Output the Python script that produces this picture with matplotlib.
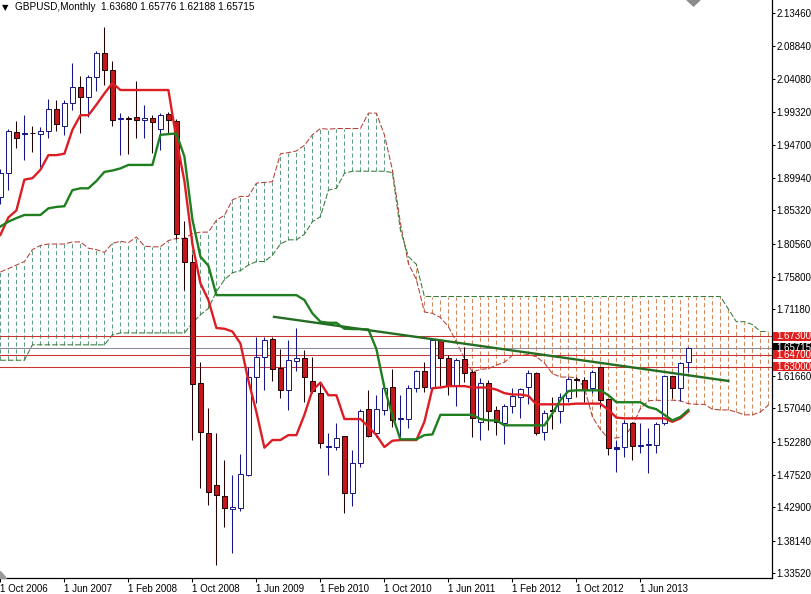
import numpy as np
import matplotlib
matplotlib.use('Agg')
import matplotlib.pyplot as plt
from matplotlib.patches import Rectangle, Polygon
from matplotlib.transforms import blended_transform_factory

plt.rcParams['font.family'] = ['Liberation Sans', 'DejaVu Sans']
plt.rcParams['lines.scale_dashes'] = False

# GBPUSD monthly candles, index 0 = Oct 2006 ... index 86 = Dec 2013
opens = [1.872, 1.906, 1.9645, 1.9625, 1.964, 1.962, 1.967, 1.998, 1.973, 2.006,
         2.029, 2.0155, 2.043, 2.0784, 2.053, 1.9835, 1.9852, 1.987, 1.982, 1.985,
         1.970, 1.991, 1.981, 1.814, 1.780, 1.6058, 1.5346, 1.461, 1.445, 1.426,
         1.428, 1.475, 1.615, 1.644, 1.669, 1.6274, 1.5965, 1.638, 1.642, 1.609,
         1.592, 1.5155, 1.5155, 1.531, 1.450, 1.4917, 1.5688, 1.5345, 1.568, 1.601,
         1.5555, 1.555, 1.599, 1.6236, 1.600, 1.668, 1.642, 1.602, 1.6403, 1.6226,
         1.551, 1.606, 1.568, 1.549, 1.574, 1.587, 1.6003, 1.6212, 1.537, 1.5685,
         1.566, 1.5846, 1.6115, 1.6107, 1.5988, 1.6288, 1.583, 1.5126, 1.5145, 1.5498,
         1.5170, 1.5175, 1.518, 1.549, 1.6165, 1.600, 1.6368]
highs = [1.912, 1.970, 1.981, 1.989, 1.974, 1.972, 2.012, 2.011, 2.011, 2.064,
         2.045, 2.0465, 2.081, 2.1155, 2.0665, 1.992, 1.988, 2.038, 2.003, 1.989,
         1.992, 1.994, 1.984, 1.838, 1.791, 1.637, 1.571, 1.535, 1.4965, 1.475,
         1.505, 1.630, 1.672, 1.6727, 1.672, 1.655, 1.668, 1.685, 1.6536, 1.644,
         1.608, 1.535, 1.549, 1.531, 1.511, 1.570, 1.597, 1.589, 1.606, 1.627,
         1.589, 1.604, 1.625, 1.637, 1.670, 1.669, 1.6465, 1.642, 1.658, 1.625,
         1.613, 1.611, 1.574, 1.577, 1.600, 1.599, 1.625, 1.6226, 1.568, 1.587,
         1.592, 1.6155, 1.615, 1.6155, 1.625, 1.6298, 1.5846, 1.525, 1.5536, 1.551,
         1.549, 1.5417, 1.551, 1.618, 1.6165, 1.637, 1.65776]
lows = [1.862, 1.882, 1.942, 1.925, 1.937, 1.915, 1.957, 1.966, 1.961, 1.997,
        1.963, 1.987, 2.023, 2.032, 1.973, 1.932, 1.934, 1.956, 1.957, 1.935,
        1.939, 1.963, 1.812, 1.739, 1.525, 1.456, 1.432, 1.346, 1.401, 1.363,
        1.424, 1.473, 1.5775, 1.5966, 1.6095, 1.585, 1.568, 1.623, 1.580, 1.592,
        1.513, 1.475, 1.511, 1.4205, 1.431, 1.487, 1.530, 1.530, 1.561, 1.544,
        1.530, 1.542, 1.594, 1.594, 1.599, 1.602, 1.589, 1.574, 1.6084, 1.530,
        1.525, 1.539, 1.532, 1.520, 1.563, 1.557, 1.577, 1.532, 1.525, 1.541,
        1.549, 1.580, 1.587, 1.580, 1.5917, 1.5726, 1.504, 1.480, 1.501, 1.4965,
        1.506, 1.4774, 1.507, 1.546, 1.5846, 1.5812, 1.62188]
closes = [1.906, 1.966, 1.956, 1.9635, 1.963, 1.9665, 1.998, 1.977, 2.006, 2.029,
          2.0146, 2.044, 2.0784, 2.053, 1.982, 1.9855, 1.9842, 1.982, 1.985, 1.979,
          1.990, 1.982, 1.820, 1.780, 1.6056, 1.5369, 1.451, 1.447, 1.428, 1.430,
          1.476, 1.6155, 1.644, 1.668, 1.627, 1.5965, 1.6393, 1.642, 1.615, 1.595,
          1.521, 1.516, 1.5274, 1.450, 1.4917, 1.5665, 1.531, 1.5688, 1.600, 1.554,
          1.5565, 1.600, 1.6236, 1.6003, 1.6679, 1.642, 1.6022, 1.6393, 1.621, 1.556,
          1.606, 1.567, 1.551, 1.574, 1.588, 1.5974, 1.6212, 1.5355, 1.5631, 1.5665,
          1.587, 1.6117, 1.6105, 1.5965, 1.6226, 1.582, 1.513, 1.5145, 1.5498, 1.5164,
          1.5185, 1.5185, 1.548, 1.6165, 1.600, 1.6355, 1.65715]

tenkan = [1.818, 1.843, 1.853, 1.897, 1.899, 1.911, 1.932, 1.932, 1.934, 1.968,
          1.989, 1.989, 2.004, 2.020, 2.035, 2.025, 2.025, 2.025, 2.025, 2.025,
          2.025, 2.025, 1.955, 1.895, 1.805, 1.749, 1.725, 1.685, 1.684, 1.680,
          1.663, 1.610, 1.565, 1.514, 1.525, 1.525, 1.532, 1.532, 1.561, 1.596,
          1.607, 1.589, 1.589, 1.555, 1.555, 1.555, 1.544, 1.532, 1.515, 1.524,
          1.525, 1.525, 1.525, 1.551, 1.599, 1.600, 1.602, 1.602, 1.602, 1.600,
          1.600, 1.600, 1.597, 1.592, 1.590, 1.590, 1.588, 1.576, 1.576, 1.576,
          1.576, 1.576, 1.577, 1.577, 1.577, 1.577, 1.568, 1.557, 1.556, 1.556,
          1.556, 1.556, 1.556, 1.556, 1.551, 1.556, 1.566]
kijun = [1.830, 1.837, 1.842, 1.8465, 1.8465, 1.8465, 1.856, 1.858, 1.859, 1.882,
         1.8846, 1.8846, 1.895, 1.908, 1.910, 1.913, 1.918, 1.918, 1.918, 1.918,
         1.961, 1.962, 1.963, 1.930, 1.840, 1.787, 1.774, 1.732, 1.732, 1.732,
         1.732, 1.732, 1.732, 1.732, 1.732, 1.732, 1.732, 1.732, 1.725, 1.706,
         1.694, 1.6925, 1.6925, 1.684, 1.6835, 1.6835, 1.683, 1.655, 1.600, 1.560,
         1.526, 1.526, 1.526, 1.532, 1.533, 1.561, 1.561, 1.561, 1.561, 1.561,
         1.555, 1.553, 1.553, 1.546, 1.546, 1.546, 1.546, 1.546, 1.546, 1.563,
         1.582, 1.595, 1.596, 1.596, 1.596, 1.596, 1.589, 1.579, 1.579, 1.579,
         1.579, 1.572, 1.569, 1.561, 1.553, 1.558, 1.568]

# senkou spans run 10 bars past the last candle
span_a = [1.765, 1.770, 1.775, 1.780, 1.797, 1.803, 1.805, 1.805, 1.805, 1.808,
          1.808, 1.799, 1.797, 1.793, 1.806, 1.809, 1.807, 1.815, 1.802, 1.801,
          1.801, 1.810, 1.813, 1.813, 1.820, 1.822, 1.822, 1.839, 1.846, 1.868,
          1.873, 1.873, 1.892, 1.893, 1.894, 1.934, 1.9355, 1.938, 1.946, 1.961,
          1.970, 1.969, 1.970, 1.970, 1.970, 1.970, 1.992, 1.992, 1.961, 1.911,
          1.835, 1.777, 1.754, 1.708, 1.706, 1.700, 1.687, 1.665, 1.642, 1.622,
          1.626, 1.627, 1.632, 1.636, 1.646, 1.646, 1.647, 1.644, 1.635, 1.620,
          1.615, 1.615, 1.614, 1.600, 1.558, 1.540, 1.527, 1.528, 1.530, 1.545,
          1.570, 1.581, 1.582, 1.581, 1.582, 1.581, 1.577, 1.576, 1.576, 1.569,
          1.568, 1.568, 1.565, 1.561, 1.561, 1.565, 1.575]
span_b = [1.639, 1.639, 1.639, 1.639, 1.661, 1.661, 1.661, 1.661, 1.661, 1.661,
          1.661, 1.661, 1.661, 1.661, 1.675, 1.678, 1.678, 1.678, 1.678, 1.678,
          1.678, 1.678, 1.678, 1.678, 1.692, 1.704, 1.713, 1.737, 1.754, 1.764,
          1.767, 1.775, 1.780, 1.780, 1.789, 1.805, 1.811, 1.811, 1.819, 1.837,
          1.844, 1.882, 1.8845, 1.906, 1.909, 1.909, 1.909, 1.909, 1.909, 1.907,
          1.825, 1.787, 1.776, 1.730, 1.730, 1.730, 1.730, 1.730, 1.730, 1.730,
          1.730, 1.730, 1.730, 1.730, 1.730, 1.730, 1.730, 1.730, 1.730, 1.730,
          1.730, 1.730, 1.730, 1.730, 1.730, 1.730, 1.730, 1.730, 1.730, 1.730,
          1.730, 1.730, 1.730, 1.730, 1.730, 1.730, 1.730, 1.730, 1.730, 1.730,
          1.730, 1.712, 1.694, 1.694, 1.690, 1.680, 1.680]

# hand drawn trend line and horizontal levels
trend_x = [34.2, 91.0]
trend_y = [1.701, 1.6094]
levels = [1.673, 1.647, 1.630]
last_price = 1.65715

yticks = [2.13460, 2.08840, 2.04080, 1.99320, 1.94700, 1.89940, 1.85320, 1.80560,
          1.75800, 1.71180, 1.61660, 1.57040, 1.52280, 1.47520, 1.42900, 1.38140, 1.33520]
xticks = [0, 8, 16, 24, 32, 40, 48, 56, 64, 72, 80]
xlabels = ['1 Oct 2006', '1 Jun 2007', '1 Feb 2008', '1 Oct 2008', '1 Jun 2009',
           '1 Feb 2010', '1 Oct 2010', '1 Jun 2011', '1 Feb 2012', '1 Oct 2012', '1 Jun 2013']
title = 'GBPUSD,Monthly  1.63680 1.65776 1.62188 1.65715'

W, H = 812, 594
fig = plt.figure(figsize=(W / 100, H / 100), dpi=100)
ax = fig.add_axes([0, 16 / H, 772 / W, 578 / H])
ax.set_xlim(-0.05, 96.45)
ax.set_ylim(1.3279, 2.1536)

# cloud hatch, one dotted bar per month
sa = np.array(span_a)
sb = np.array(span_b)
xs = np.arange(len(sa))
up = sa >= sb
lo = np.minimum(sa, sb)
hi = np.maximum(sa, sb)
ax.vlines(xs[up], lo[up], hi[up], colors='#5f9c84', lw=0.75, linestyles=(0, (3, 2)), zorder=1)
ax.vlines(xs[~up], lo[~up], hi[~up], colors='#d08a5e', lw=0.75, linestyles=(0, (3, 2)), zorder=1)
ax.plot(xs, sa, color='#b4403a', lw=0.75, ls=(0, (4, 1.5)), zorder=2)
ax.plot(xs, sb, color='#3a7a3a', lw=0.75, ls=(0, (4, 1.5)), zorder=2)

# horizontal levels
for lv in levels:
    ax.axhline(lv, color='#c83232', lw=0.75, zorder=2)
ax.axhline(last_price, color='#8a8a9c', lw=0.75, zorder=2)

# candles
bw = 0.62
for i in range(len(opens)):
    o, h, l, c = opens[i], highs[i], lows[i], closes[i]
    if c >= o:
        ec, fc = '#14148c', 'white'
    else:
        ec, fc = '#200000', '#c4161c'
    if abs(c - o) < 0.002:
        fc = ec
    ax.vlines(i, l, h, colors=ec, lw=0.75, zorder=3)
    ax.add_patch(Rectangle((i - bw / 2, min(o, c)), bw, max(abs(c - o), 0.0012),
                           facecolor=fc, edgecolor=ec, lw=0.7, zorder=4))

# ichimoku lines and trend line
xc = np.arange(len(tenkan))
ax.plot(xc, tenkan, color='#dc1e24', lw=1.7, zorder=5)
ax.plot(xc, kijun, color='#1f7f1f', lw=1.7, zorder=6)
ax.plot(trend_x, trend_y, color='#236e23', lw=1.7, zorder=7)

# axes styling
for s in ['left', 'top']:
    ax.spines[s].set_visible(False)
ax.spines['right'].set_linewidth(0.9)
ax.spines['bottom'].set_linewidth(0.9)
ax.yaxis.tick_right()
ax.set_yticks(yticks)
ax.set_yticklabels(['%.5f' % v for v in yticks], fontsize=7)
ax.tick_params(axis='y', direction='out', length=2, width=0.75, pad=1)
ax.set_xticks(xticks)
ax.set_xticklabels(xlabels, fontsize=7, ha='left')
ax.tick_params(axis='x', direction='out', length=3, width=0.75, pad=1)

# price labels on the right axis (they overlap in the original too)
tr = blended_transform_factory(ax.transAxes, ax.transData)
bh = 9.5 / 700
bx = 1.0 + 1.5 / 772
box_w = 40 / 772
for val, col in [(last_price, 'black'), (1.673, '#e01e1e'), (1.647, '#e01e1e'), (1.630, '#e01e1e')]:
    ax.add_patch(Rectangle((bx, val - bh / 2), box_w, bh, transform=tr, clip_on=False,
                           facecolor=col, edgecolor='none', zorder=10))
    ax.text(bx + 3 / 772, val, '%.5f' % val, transform=tr, color='white', fontsize=7,
            va='center', ha='left', clip_on=False, zorder=11)

# title and small chart decorations
fig.text(2 / W, 1 - 7.5 / H, '\u25bc', fontsize=6, family='DejaVu Sans', va='center', ha='left')
fig.text(15 / W, 1 - 7.5 / H, title, fontsize=7.2, va='center', ha='left')
fig.add_artist(Polygon([[687 / W, 1], [700 / W, 1], [693.5 / W, 1 - 6 / H]],
                       closed=True, transform=fig.transFigure, color='#8c8c8c'))
fig.add_artist(Polygon([[0, 1 - 571 / H], [0, 1 - 578 / H], [6 / W, 1 - 578 / H]],
                       closed=True, transform=fig.transFigure, color='#9a9a9a'))

fig.savefig('out.png', dpi=100, facecolor='white')
